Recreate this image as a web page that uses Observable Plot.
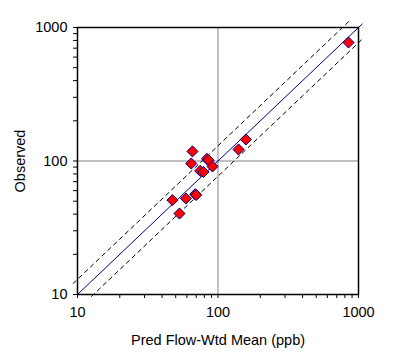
<!DOCTYPE html>
<html>
<head>
<meta charset="utf-8">
<script src="https://cdn.jsdelivr.net/npm/d3@7"></script>
<script src="https://cdn.jsdelivr.net/npm/@observablehq/plot@0.6"></script>
<style>
  html, body { margin: 0; padding: 0; background: #fff; }
  #chart { width: 409px; height: 356px; }
</style>
</head>
<body>
<div id="chart"></div>
<script>
// Data
const predicted = [849, 158, 140, 65.8, 64.5, 83.4, 85.5, 91.4, 74.7, 78.8, 68.8, 70.0, 59.1, 47.4, 53.2];
const observed  = [772, 145, 122, 118, 95.8, 103.7, 101.5, 91, 84.3, 82.8, 56.4, 55.6, 52.4, 50.9, 40.4];

const majorTicks = [10, 100, 1000];
const allTicks = [10,20,30,40,50,60,70,80,90,100,200,300,400,500,600,700,800,900,1000];
const gridValues = [100];
const lineX = [10, 1062];          // 1:1 line extent
const upperX = [9.3, 849];         // +30% line extent
const lowerX = [12.6, 1062];       // -30% line extent
const factor = 1.3;

const points = predicted.map((p, i) => ({x: p, y: observed[i]}));
const oneToOne = lineX.map(x => ({x, y: x}));
const upper = upperX.map(x => ({x, y: x * factor}));
const lower = lowerX.map(x => ({x, y: x / factor}));

const chart = Plot.plot({
  width: 409,
  height: 356,
  marginLeft: 77,
  marginRight: 51,
  marginTop: 27,
  marginBottom: 62,
  style: {fontFamily: "Arial, 'Liberation Sans', sans-serif", fontSize: "14px", color: "#000", background: "#fff"},
  x: {type: "log", domain: [10, 1000]},
  y: {type: "log", domain: [10, 1000]},
  marks: [
    Plot.ruleX(gridValues, {stroke: "#808080", strokeWidth: 1}),
    Plot.ruleY(gridValues, {stroke: "#808080", strokeWidth: 1}),
    Plot.line(upper, {x: "x", y: "y", stroke: "#000", strokeWidth: 1, strokeDasharray: "4,4", clip: false}),
    Plot.line(lower, {x: "x", y: "y", stroke: "#000", strokeWidth: 1, strokeDasharray: "4,4", clip: false}),
    Plot.line(oneToOne, {x: "x", y: "y", stroke: "#00008b", strokeWidth: 1, clip: false}),
    Plot.frame({stroke: "#000", strokeWidth: 1.5}),
    Plot.axisX(allTicks, {tickSize: 4, text: null, stroke: "#000", label: null}),
    Plot.axisY(allTicks, {tickSize: 4, text: null, stroke: "#000", label: null}),
    Plot.axisX(majorTicks, {tickSize: 0, tickPadding: 12, tickFormat: d => String(d), fontSize: 14.5,
      label: "Pred Flow-Wtd Mean (ppb)", labelAnchor: "center", labelArrow: "none", labelOffset: 50}),
    Plot.axisY(majorTicks, {tickSize: 0, tickPadding: 10, tickFormat: d => String(d), fontSize: 14.5,
      label: "Observed", labelAnchor: "center", labelArrow: "none", labelOffset: 63}),
    Plot.dot(points, {x: "x", y: "y", symbol: "diamond2", r: 5, fill: "#ff0000", stroke: "#00008b", strokeWidth: 1})
  ]
});
document.getElementById("chart").appendChild(chart);
</script>
</body>
</html>
